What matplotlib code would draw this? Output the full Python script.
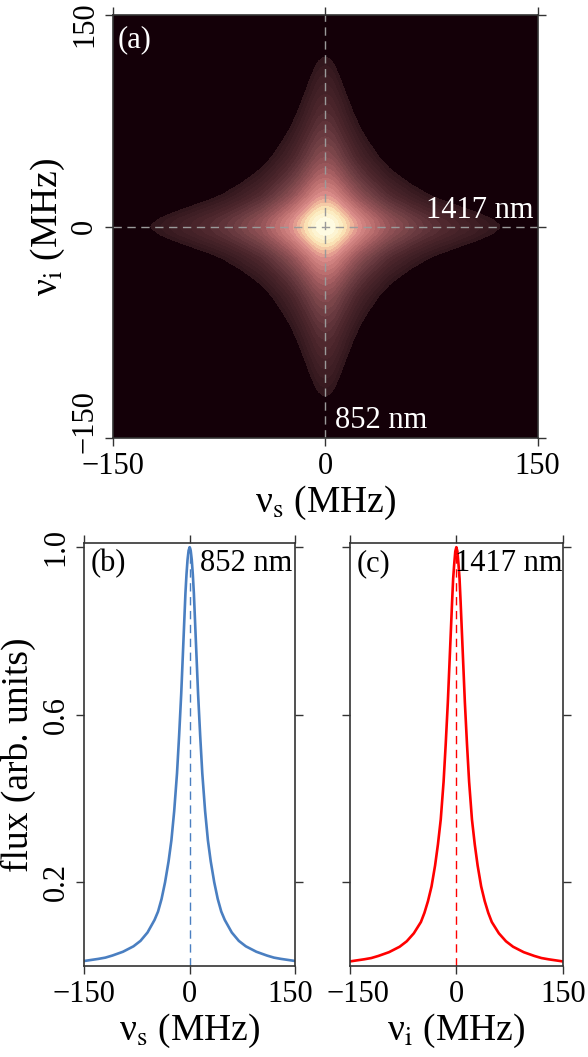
import numpy as np
import matplotlib
matplotlib.use("Agg")
import matplotlib.pyplot as plt
from matplotlib.colors import LinearSegmentedColormap, LogNorm
from matplotlib.transforms import ScaledTranslation

plt.rcParams['font.family'] = 'serif'
plt.rcParams['font.serif'] = ['Liberation Serif', 'DejaVu Serif']
plt.rcParams['mathtext.fontset'] = 'stix'

# detuning grid (MHz) and the two marginal spectra (b) and (c)
nu = [-150, -130, -120, -110, -95, -80, -70, -60, -50, -45, -40, -35, -30, -26, -22, -18,
      -15, -12, -9, -6, -4.5, -3, -1.5, 0, 1.5, 3, 4.5, 6, 9, 12, 15, 18, 22, 26, 30, 35,
      40, 45, 50, 60, 70, 80, 95, 110, 120, 130, 150]
flux_s = [0.012, 0.017, 0.020, 0.025, 0.034, 0.047, 0.060, 0.080, 0.110, 0.130, 0.160,
          0.200, 0.250, 0.300, 0.370, 0.460, 0.550, 0.650, 0.770, 0.890, 0.935, 0.970,
          0.992, 1.000, 0.992, 0.970, 0.935, 0.890, 0.770, 0.650, 0.550, 0.460, 0.370,
          0.300, 0.250, 0.200, 0.160, 0.130, 0.110, 0.080, 0.060, 0.047, 0.034, 0.025,
          0.020, 0.017, 0.012]
flux_i = [0.011, 0.016, 0.019, 0.024, 0.033, 0.046, 0.059, 0.078, 0.105, 0.127, 0.155,
          0.190, 0.240, 0.290, 0.350, 0.440, 0.530, 0.630, 0.750, 0.870, 0.925, 0.960,
          0.990, 1.000, 0.990, 0.960, 0.925, 0.870, 0.750, 0.630, 0.530, 0.440, 0.350,
          0.290, 0.240, 0.190, 0.155, 0.127, 0.105, 0.078, 0.059, 0.046, 0.033, 0.024,
          0.019, 0.016, 0.011]

ticks = [-150, 0, 150]
tick_labels = ['\u2212150', '0', '150']
flux_ticks = [0.2, 0.6, 1.0]

# joint spectrum of panel (a): product of the two marginals
joint = np.outer(flux_i, flux_s)

bg = '#140008'
cmap = LinearSegmentedColormap.from_list('star', [
    (0.0, bg), (0.10, '#1c060d'), (0.14, '#30161c'), (0.30, '#4c262c'),
    (0.45, '#724045'), (0.58, '#9c585c'), (0.68, '#c07272'), (0.77, '#dc8e8a'),
    (0.84, '#f2bc9e'), (0.90, '#fbe8b8'), (1.0, '#ffffea')])

W, H = 588, 1057
fig = plt.figure(figsize=(W / 100, H / 100), dpi=100)

def frac(x0, y0, x1, y1):
    return [x0 / W, 1 - y1 / H, (x1 - x0) / W, (y1 - y0) / H]

tfs = 22
lfs = 27

def style(ax):
    ax.tick_params(direction='out', length=6, width=1, top=True, right=True,
                   labelsize=tfs, colors='#333333', labelcolor='black', pad=4)
    for s in ax.spines.values():
        s.set_color('#333333')
        s.set_linewidth(1.2)

def shift(lab, dx, dy):
    lab.set_transform(lab.get_transform() + ScaledTranslation(dx / 100, dy / 100, fig.dpi_scale_trans))

# ---- (a)
axa = fig.add_axes(frac(113, 15, 537.5, 438))
axa.set_facecolor(bg)
lev = np.geomspace(0.019, 1.0, 28)
axa.contourf(nu, nu, joint, levels=lev, cmap=cmap, norm=LogNorm(vmin=0.01, vmax=1.0))
axa.axvline(0, color='#9a9a9a', lw=1, ls=(0, (6, 4)))
axa.axhline(0, color='#9a9a9a', lw=1, ls=(0, (6, 4)))
axa.set_xlim(-150, 150)
axa.set_ylim(-150, 150)
axa.set_xticks(ticks)
axa.set_yticks(ticks)
style(axa)
axa.set_xticklabels(tick_labels)
axa.set_yticklabels(tick_labels, rotation=90, va='center')
ylabs = axa.get_yticklabels()
shift(ylabs[0], 0, 16)
shift(ylabs[2], 0, -9)
axa.set_xlabel('\u03bd$_\\mathrm{s}$ (MHz)', fontsize=lfs, labelpad=2)
axa.set_ylabel('\u03bd$_\\mathrm{i}$ (MHz)', fontsize=lfs, labelpad=2)
axa.text(0.012, 0.975, '(a)', color='white', fontsize=tfs, transform=axa.transAxes,
         ha='left', va='top')
axa.text(147, 6, '1417 nm', color='white', fontsize=tfs, ha='right', va='baseline')
axa.text(7, -143, '852 nm', color='white', fontsize=tfs, ha='left', va='baseline')

# ---- (b) and (c)
panels = [
    (frac(84.3, 543, 295, 966), flux_s, '#4a7fc1', '(b)', '852 nm', '\u03bd$_\\mathrm{s}$ (MHz)'),
    (frac(350, 543, 562.7, 966), flux_i, '#ff0000', '(c)', '1417 nm', '\u03bd$_\\mathrm{i}$ (MHz)'),
]
for k, (rect, fl, col, tag, wl, xl) in enumerate(panels):
    ax = fig.add_axes(rect)
    ax.plot(nu, fl, color=col, lw=1.9)
    ax.plot([0, 0], [0, 1.0], color=col, lw=1, ls=(0, (6, 4)))
    ax.set_xlim(-150, 150)
    ax.set_ylim(0, 1.01)
    ax.set_xticks(ticks)
    ax.set_yticks(flux_ticks)
    style(ax)
    ax.set_xticklabels(tick_labels)
    ax.set_yticklabels(['0.2', '0.6', '1.0'], rotation=90, va='center')
    xlabs = ax.get_xticklabels()
    if k == 0:
        shift(xlabs[2], -5, 0)
        ax.set_ylabel('flux (arb. units)', fontsize=lfs, labelpad=4)
    else:
        shift(xlabs[0], 8, 0)
        ax.tick_params(labelleft=False)
    ax.set_xlabel(xl, fontsize=lfs, labelpad=2)
    ax.text(0.03, 0.985, tag, fontsize=tfs, transform=ax.transAxes, ha='left', va='top')
    ax.text(0.985 if k == 0 else 0.998, 0.985, wl, fontsize=tfs, transform=ax.transAxes,
            ha='right', va='top')

fig.savefig('out.png', dpi=100)
